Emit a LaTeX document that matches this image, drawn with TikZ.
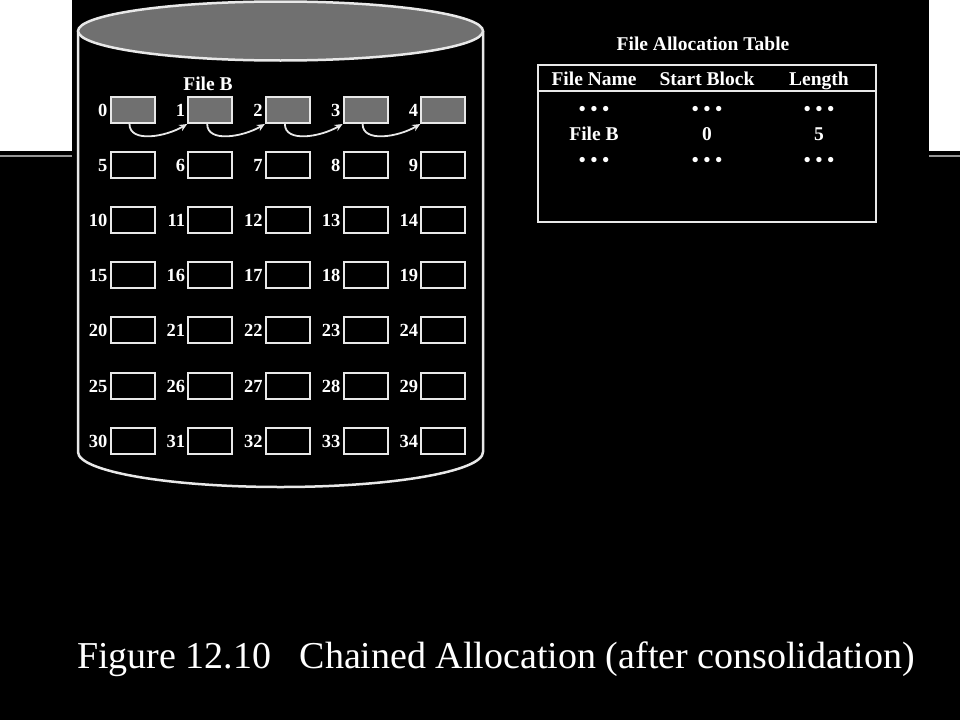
\documentclass[tikz,border=0pt]{standalone}
\usepackage{fontspec}
\setmainfont{Liberation Serif}
\usetikzlibrary{positioning,arrows.meta,calc}
\definecolor{diskGray}{RGB}{112,112,112}
\definecolor{diskLine}{RGB}{232,232,232}
\definecolor{slideRule}{RGB}{150,150,150}

\begin{document}
\begin{tikzpicture}[x=1pt,y=-1pt,
  blk/.style={draw=diskLine, line width=2pt, minimum width=44pt,
              minimum height=26pt, inner sep=0pt},
  used/.style={blk, fill=diskGray},
  num/.style={text=white, font=\fontsize{18.5}{20}\selectfont\bfseries,
              inner sep=0pt, text height=13pt, text depth=0pt},
  lbl/.style={text=white, font=\fontsize{19.5}{22}\selectfont\bfseries,
              inner sep=0pt, text height=13pt, text depth=0pt},
  chain/.style={-{Stealth[length=8pt,width=7pt]}, draw=diskLine,
                line width=1.8pt}
]
\useasboundingbox (0,0) rectangle (960,720);
% slide background
\fill[black] (0,0) rectangle (960,720);
\fill[white] (0,0) rectangle (72,151);
\fill[white] (929,0) rectangle (960,151);
\draw[slideRule, line width=2pt] (0,156) -- (72,156);
\draw[slideRule, line width=2pt] (929,156) -- (960,156);

% disk
\draw[diskLine, line width=2.5pt] (78,31) -- (78,452)
  arc[start angle=180, end angle=0, x radius=202.5, y radius=35] -- (483,31);
\draw[diskLine, line width=2.5pt, fill=diskGray] (280.5,31)
  ellipse[x radius=202.5, y radius=29.5];

% blocks
\foreach \r in {0,...,6}
  \foreach \c in {0,...,4} {
    \pgfmathtruncatemacro\n{5*\r+\c}
    \ifnum\n<5 \def\st{used}\else\def\st{blk}\fi
    \node[\st] (b\n) at ({132.5+77.7*\c}, {110+55.1*\r}) {};
    \node[num, left=2pt of b\n] {\n};
  }
\node[lbl] (fileB) at (208,83.5) {File B};
\foreach \i [evaluate=\i as \j using int(\i+1)] in {0,...,3}
  \draw[chain] ($(b\i.south west)+(20,0)$) .. controls +(0,19) and +(-22,13)
    .. (b\j.south west);

% file allocation table
\node[lbl] (fatTitle) at (703,43.5) {File Allocation Table};
\node[draw=diskLine, line width=2pt, minimum width=338pt, minimum height=157pt,
      inner sep=0pt] (fat) at (707,143.5) {};
\draw[diskLine, line width=2pt] ([yshift=-27pt]fat.north west)
  -- ([yshift=-27pt]fat.north east);
\node[lbl] (hName)  at (594,78.5) {File Name};
\node[lbl] (hStart) at (707,78.5) {Start Block};
\node[lbl] (hLen)   at (819,78.5) {Length};
\foreach \x/\s in {594/a,707/b,819/c} {
  \node[lbl] (dotsT\s) at (\x,109) {\textbullet{} \textbullet{} \textbullet};
  \node[lbl] (dotsB\s) at (\x,159.5) {\textbullet{} \textbullet{} \textbullet};
}
\node[lbl] (rName)  at (594,133.5) {File B};
\node[lbl] (rStart) at (707,133.5) {0};
\node[lbl] (rLen)   at (819,133.5) {5};

% caption
\node[text=white, font=\fontsize{38}{44}\selectfont, inner sep=0pt,
      anchor=base] (caption) at (496,668)
  {Figure 12.10\hspace{0.75em}Chained Allocation (after consolidation)};
\end{tikzpicture}
\end{document}
